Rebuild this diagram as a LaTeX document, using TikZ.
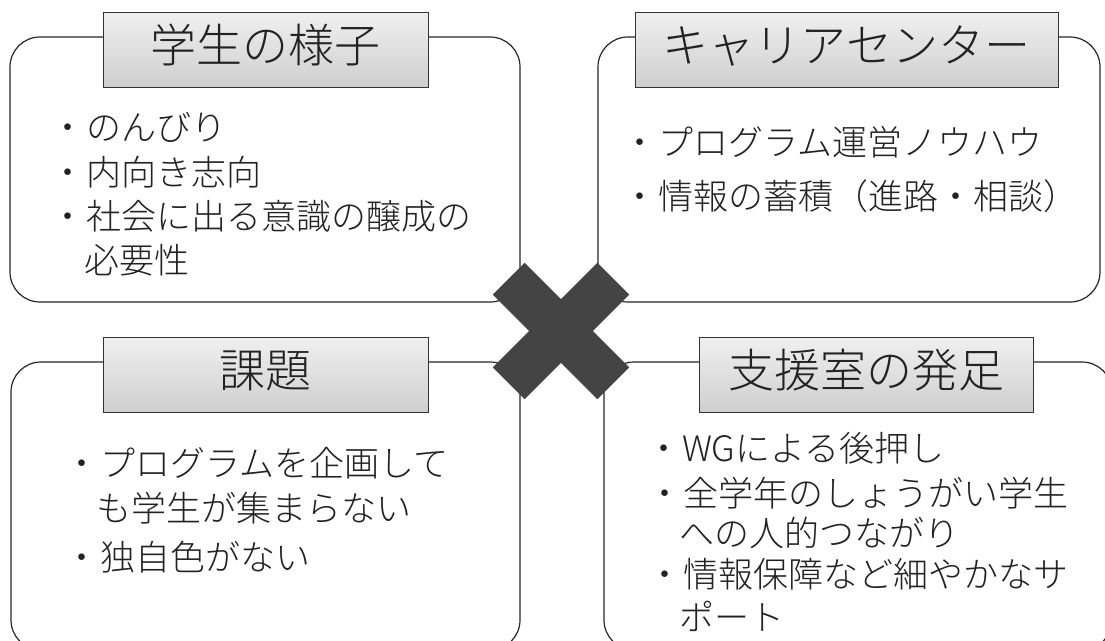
\documentclass[tikz,border=0pt]{standalone}
\usepackage{fontspec}
\setmainfont{Noto Sans CJK JP Light}
\usetikzlibrary{shapes,arrows}
\definecolor{xgray}{HTML}{444444}
\definecolor{txtgray}{HTML}{222222}
\newcommand{\bul}{\llap{\makebox[0pt][c]{・}\hspace{18pt}}}

\begin{document}
\begin{tikzpicture}[x=1pt, y=-1pt]
\tikzstyle{panel}=[rectangle, draw=black!85, line width=1.2pt, rounded corners=30pt, inner sep=0pt]
\tikzstyle{titlebox}=[rectangle, draw=black!80, line width=0.9pt, top color=gray!12, bottom color=gray!38, minimum height=75pt, inner sep=0pt, text height=31pt, text depth=6pt, text=txtgray, font=\fontsize{46}{50}\selectfont]
\tikzstyle{item}=[anchor=west, inner sep=0pt, text=txtgray, font=\fontsize{35}{40}\selectfont]
\tikzstyle{crossbar}=[rectangle, fill=xgray, minimum width=148pt, minimum height=45pt, inner sep=0pt]

\clip (0,0) rectangle (1105,640);

\node[panel, minimum width=510pt, minimum height=265pt] (P0) at (265,169.5) {};
\node[panel, minimum width=502pt, minimum height=265pt] (P1) at (849,169.5) {};
\node[panel, minimum width=509pt, minimum height=288pt] (P2) at (265.5,506) {};
\node[panel, minimum width=508pt, minimum height=288pt] (P3) at (858,506) {};

\node[crossbar, rotate=45] (X0) at (561,331) {};
\node[crossbar, rotate=-45] (X1) at (561,331) {};

\node[titlebox, minimum width=325pt] (T0) at (265.5,49.5) {学生の様子};
\node[titlebox, minimum width=423pt] (T1) at (846.5,49.5) {キャリアセンター};
\node[titlebox, minimum width=325pt] (T2) at (265.5,374.5) {課題};
\node[titlebox, minimum width=334pt] (T3) at (866,374.5) {支援室の発足};

\node[item] (P0x0) at (86,127) {\bul のんびり};
\node[item] (P0x1) at (86,172) {\bul 内向き志向};
\node[item] (P0x2) at (86,216) {\bul 社会に出る意識の醸成の};
\node[item] (P0x3) at (84,260) {必要性};

\node[item] (P1x0) at (658,142) {\bul プログラム運営ノウハウ};
\node[item] (P1x1) at (658,196) {\bul 情報の蓄積（進路・相談）};

\node[item] (P2x0) at (100,463) {\bul プログラムを企画して};
\node[item] (P2x1) at (96,508) {も学生が集まらない};
\node[item] (P2x2) at (100,557) {\bul 独自色がない};

\node[item] (P3x0) at (682,448) {\bul WGによる後押し};
\node[item] (P3x1) at (683,493) {\bul 全学年のしょうがい学生};
\node[item] (P3x2) at (679,533) {への人的つながり};
\node[item] (P3x3) at (683,574) {\bul 情報保障など細やかなサ};
\node[item] (P3x4) at (679,616) {ポート};
\end{tikzpicture}
\end{document}
